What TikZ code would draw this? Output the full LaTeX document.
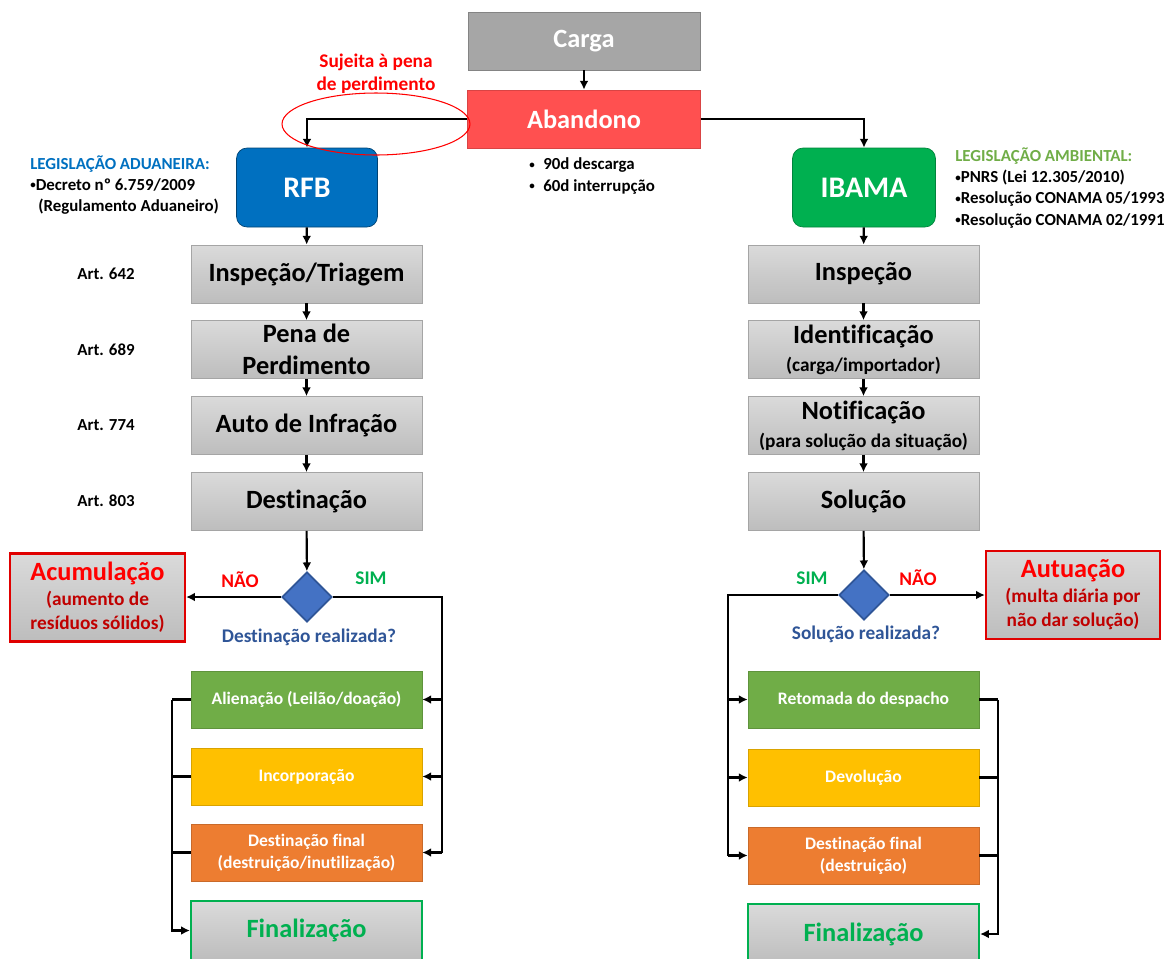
\documentclass[tikz,border=0pt]{standalone}
\usepackage{fontspec}
\setmainfont{Carlito}[Ligatures=NoCommon]
\usetikzlibrary{shapes.geometric,arrows.meta}

\definecolor{cinzaTopo}{HTML}{DADADA}
\definecolor{cinzaBase}{HTML}{BDBDBD}
\definecolor{cinzaBorda}{HTML}{A5A5A5}
\definecolor{cinzaCarga}{HTML}{A6A6A6}
\definecolor{vermAband}{HTML}{FF5050}
\definecolor{azulRFB}{HTML}{0070C0}
\definecolor{verdeIbama}{HTML}{00B050}
\definecolor{verdeAlien}{HTML}{70AD47}
\definecolor{amareloInc}{HTML}{FFC000}
\definecolor{laranjaDest}{HTML}{ED7D31}
\definecolor{azulDec}{HTML}{4472C4}
\definecolor{azulPerg}{HTML}{2F5597}
\definecolor{vermA}{HTML}{FF0000}
\definecolor{vermE}{HTML}{C00000}

% marcador pequeno
\newcommand{\marca}{\raisebox{0.22ex}{\scalebox{0.65}{•}}}

\begin{document}
\begin{tikzpicture}[x=0.02cm, y=-0.02cm,
    caixa/.style={minimum width=4.62cm, minimum height=1.16cm, inner sep=0pt, align=center},
    etapa/.style={caixa, draw=cinzaBorda, top color=cinzaTopo, bottom color=cinzaBase, text=black, font=\bfseries\fontsize{15}{18}\selectfont},
    orgao/.style={minimum width=2.82cm, minimum height=1.58cm, rounded corners=6pt, text=white, font=\bfseries\fontsize{17}{20}\selectfont},
    destino/.style={caixa, minimum height=1.14cm, text=white, font=\bfseries\fontsize{10}{12.5}\selectfont},
    final/.style={caixa, draw=verdeIbama, line width=1.3pt, top color=cinzaTopo, bottom color=cinzaBase, text=verdeIbama, font=\bfseries\fontsize{15}{18}\selectfont},
    alerta/.style={draw=vermA!88!black, line width=1.3pt, top color=cinzaTopo, bottom color=cinzaBase, minimum width=3.5cm, minimum height=1.76cm, inner sep=0pt, align=center, text=vermE, font=\bfseries\fontsize{11}{14}\selectfont},
    decisao/.style={diamond, aspect=1, minimum width=1cm, minimum height=1cm, inner sep=0pt, fill=azulDec, draw=azulPerg, line width=1pt},
    nota/.style={font=\bfseries\fontsize{9.6}{12}\selectfont, align=left},
    lista/.style={nota, anchor=west, inner sep=0pt},
    rotulo/.style={font=\bfseries\fontsize{11}{13}\selectfont},
    linha/.style={line width=1.2pt},
    seta/.style={linha, -{Latex[length=5pt,width=5pt]}}
]
\useasboundingbox (0,0) rectangle (1174,958);

% Topo
\node[caixa, minimum width=4.64cm, fill=cinzaCarga, draw=cinzaBorda!80!black, text=white, font=\bfseries\fontsize{15}{18}\selectfont] (carga) at (584,41) {Carga};
\node[caixa, minimum width=4.66cm, fill=vermAband, draw=vermAband!85!black, text=white, font=\bfseries\fontsize{15}{18}\selectfont] (aband) at (584,119) {Abandono};
\node[lista] (prazo) at (529,176) {\marca\hspace{0.17cm}90d descarga\\\marca\hspace{0.17cm}60d interrupção};
\node[rotulo, text=vermA, align=center] (sujeita) at (376,74) {Sujeita à pena\\de perdimento};

% Orgaos
\node[orgao, fill=azulRFB, draw=azulRFB!60!black] (rfb) at (307,187.5) {RFB};
\node[orgao, minimum width=2.86cm, fill=verdeIbama, draw=verdeIbama!75!black] (ibama) at (864,187.5) {IBAMA};
\node[lista] (legA) at (30,185) {\textcolor{azulRFB}{LEGISLAÇÃO ADUANEIRA:}\\\marca Decreto nº 6.759/2009\\\hspace*{0.16cm}(Regulamento Aduaneiro)};
\node[lista] (legB) at (955,188) {\textcolor{verdeAlien}{LEGISLAÇÃO AMBIENTAL:}\\\marca PNRS (Lei 12.305/2010)\\\marca Resolução CONAMA 05/1993\\\marca Resolução CONAMA 02/1991};

% RFB - etapas
\node[etapa] (inspL) at (306.5,274) {Inspeção/Triagem};
\node[etapa] (pena) at (306.5,349.5) {Pena de\\Perdimento};
\node[etapa] (auto) at (306.5,425.5) {Auto de Infração};
\node[etapa] (destL) at (306.5,501.5) {Destinação};
\node[nota] (art1) at (106,274) {Art. 642};
\node[nota] (art2) at (106,350) {Art. 689};
\node[nota] (art3) at (106,425) {Art. 774};
\node[nota] (art4) at (106,501) {Art. 803};

% IBAMA - etapas
\node[etapa] (inspR) at (863.5,274) {Inspeção};
\node[etapa] (ident) at (863.5,349.5) {Identificação\\[-2pt]{\fontsize{11}{13}\selectfont (carga/importador)}};
\node[etapa] (notif) at (863.5,425.5) {Notificação\\[-2pt]{\fontsize{11}{13}\selectfont (para solução da situação)}};
\node[etapa] (sol) at (863.5,501.5) {Solução};

% Decisoes
\node[decisao] (dL) at (307,597) {};
\node[decisao] (dR) at (864,595) {};
\node[rotulo, text=azulPerg] (qL) at (309,637) {Destinação realizada?};
\node[rotulo, text=azulPerg] (qR) at (866,634) {Solução realizada?};
\node[rotulo, text=vermA] (naoL) at (240,580) {NÃO};
\node[rotulo, text=verdeIbama] (simL) at (371,578) {SIM};
\node[rotulo, text=verdeIbama] (simR) at (812,578) {SIM};
\node[rotulo, text=vermA] (naoR) at (918,578) {NÃO};
\node[alerta] (acum) at (97.5,597.5) {\textcolor{vermA}{\fontsize{15}{18}\selectfont Acumulação}\\(aumento de\\resíduos sólidos)};
\node[alerta, minimum width=3.48cm] (autu) at (1073,595) {\textcolor{vermA}{\fontsize{15}{18}\selectfont Autuação}\\(multa diária por\\não dar solução)};

% Destinos RFB
\node[destino, fill=verdeAlien, draw=verdeAlien!85!black] (alien) at (306.5,699.5) {Alienação (Leilão/doação)};
\node[destino, fill=amareloInc, draw=amareloInc!85!black] (inc) at (306.5,776.5) {Incorporação};
\node[destino, fill=laranjaDest, draw=laranjaDest!85!black] (dfL) at (306.5,852.5) {Destinação final\\(destruição/inutilização)};
\node[final, minimum height=1.18cm] (finL) at (306.5,930.5) {Finalização};

% Destinos IBAMA
\node[destino, fill=verdeAlien, draw=verdeAlien!85!black] (ret) at (863.5,699.5) {Retomada do despacho};
\node[destino, fill=amareloInc, draw=amareloInc!85!black] (dev) at (863.5,777.5) {Devolução};
\node[destino, fill=laranjaDest, draw=laranjaDest!85!black] (dfR) at (863.5,855.5) {Destinação final\\(destruição)};
\node[final, minimum height=1.2cm] (finR) at (863.5,934) {Finalização};

% Ligacoes topo
\draw[seta] (carga) -- (aband);
\draw[seta] (aband.west) -| (rfb.north);
\draw[seta] (aband.east) -| (ibama.north);

% Ligacoes RFB
\draw[seta] (rfb) -- (inspL);
\draw[seta] (inspL) -- (pena);
\draw[seta] (pena) -- (auto);
\draw[seta] (auto) -- (destL);
\draw[seta] (destL) -- (dL);
\draw[seta] (dL.west) -- (dL.west -| acum.east);
\coordinate (rotaL) at (442,597);
\coordinate (somaL) at (172,700);
\draw[linha] (dL.east) -- (rotaL) -- (rotaL |- dfL.east);
\foreach \n in {alien,inc,dfL} {
    \draw[seta] (rotaL |- \n.east) -- (\n.east);
    \draw[linha] (\n.west) -- (\n.west -| somaL);
}
\draw[seta] (somaL |- alien.west) |- (finL.west);

% Ligacoes IBAMA
\draw[seta] (ibama) -- (inspR);
\draw[seta] (inspR) -- (ident);
\draw[seta] (ident) -- (notif);
\draw[seta] (notif) -- (sol);
\draw[seta] (sol) -- (dR);
\draw[seta] (dR.east) -- (dR.east -| autu.west);
\coordinate (rotaR) at (728,595);
\coordinate (somaR) at (998,700);
\draw[linha] (dR.west) -- (rotaR) -- (rotaR |- dfR.west);
\foreach \n in {ret,dev,dfR} {
    \draw[seta] (rotaR |- \n.west) -- (\n.west);
    \draw[linha] (\n.east) -- (\n.east -| somaR);
}
\draw[seta] (somaR |- ret.east) |- (finR.east);

% Destaque
\draw[red, line width=0.6pt] (376,124) ellipse [x radius=1.88cm, y radius=0.62cm];
\end{tikzpicture}
\end{document}
